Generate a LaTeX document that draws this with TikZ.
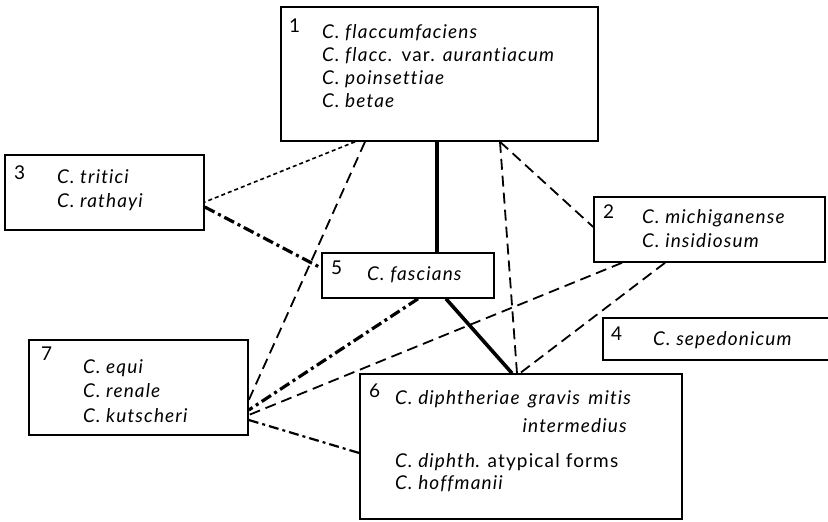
\documentclass[tikz,border=0pt]{standalone}
\usepackage{fontspec}
\setmainfont{Lato}[LetterSpace=6, Ligatures={NoCommon}]
\usetikzlibrary{positioning}

\begin{document}
\begin{tikzpicture}[x=1pt,y=-1pt,font=\fontsize{19}{23}\selectfont,
box/.style={draw, line width=1.6pt, inner sep=0pt},
num/.style={anchor=north west, inner sep=0pt, font=\fontsize{19}{20}\selectfont},
names/.style={anchor=base west, align=left, inner sep=0pt},
solidlink/.style={line width=3.6pt},
dashlink/.style={line width=1.8pt, dash pattern=on 11pt off 6pt},
dotlink/.style={line width=1.6pt, dash pattern=on 4pt off 3pt},
dashdotlink/.style={line width=3.2pt, dash pattern=on 11pt off 4pt on 3pt off 4pt},
thindashdot/.style={line width=2.2pt, dash pattern=on 10pt off 4pt on 3pt off 4pt}]
\useasboundingbox (0,0) rectangle (828,522);
\clip (0,0) rectangle (828,522);
\node[box, minimum width=317pt, minimum height=134pt] (b1) at (439.5,74) {};
\node[box, minimum width=199pt, minimum height=75pt] (b3) at (104.5,192.5) {};
\node[box, minimum width=231pt, minimum height=65pt] (b2) at (709.5,229.5) {};
\node[box, minimum width=172pt, minimum height=45pt] (b5) at (408,275.5) {};
\node[box, minimum width=247pt, minimum height=42pt] (b4) at (726.5,339) {};
\node[box, minimum width=219pt, minimum height=95pt] (b7) at (138.5,387.5) {};
\node[box, minimum width=322pt, minimum height=145pt] (b6) at (521,446.5) {};
\node[num] (n1) at (289,19) {1};
\node[num] (n3) at (14,166) {3};
\node[num] (n2) at (603,205) {2};
\node[num] (n5) at (331,261) {5};
\node[num] (n4) at (611,327) {4};
\node[num] (n7) at (41,347) {7};
\node[num] (n6) at (369,384) {6};
\node[names] (t1) at (322,107) {\textit{C. flaccumfaciens}\\\textit{C. flacc.} var. \textit{aurantiacum}\\\textit{C. poinsettiae}\\\textit{C. betae}};
\node[names, font=\fontsize{19}{24}\selectfont] (t3) at (57,207) {\textit{C. tritici}\\\textit{C. rathayi}};
\node[names, font=\fontsize{19}{24}\selectfont] (t2) at (642,247) {\textit{C. michiganense}\\\textit{C. insidiosum}};
\node[names] (t5) at (367,280) {\textit{C. fascians}};
\node[names] (t4) at (653,345) {\textit{C. sepedonicum}};
\node[names, font=\fontsize{19}{24.5}\selectfont] (t7) at (83,422) {\textit{C. equi}\\\textit{C. renale}\\\textit{C. kutscheri}};
\node[names] (t6) at (395,404) {\textit{C. diphtheriae\hspace{0.45em}gravis\hspace{0.45em}mitis}};
\node[anchor=base east, inner sep=0pt] (t6b) at (628,432) {\textit{intermedius}};
\node[names, font=\fontsize{19}{22}\selectfont] (t6c) at (395,489) {\textit{C. diphth}. atypical forms\\\textit{C. hoffmanii}};
\draw[dotlink] ([xshift=-84.5pt]b1.south) -- ([yshift=-9.5pt]b3.east);
\draw[dashlink] ([xshift=-74.5pt]b1.south) -- ([yshift=-12.5pt]b7.east);
\draw[solidlink] ([xshift=-2.5pt]b1.south) -- ([xshift=29pt]b5.north);
\draw[dashlink] ([xshift=60.5pt]b1.south) -- ([yshift=2.5pt]b2.west);
\draw[dashlink] ([xshift=60.5pt]b1.south) -- ([xshift=-4pt]b6.north);
\draw[dashdotlink] ([yshift=-14.5pt]b3.east) -- ([yshift=7.5pt]b5.west);
\draw[solidlink] ([xshift=38pt]b5.south) -- ([xshift=-9pt]b6.north);
\draw[dashdotlink] ([xshift=10pt]b5.south) -- ([yshift=-22.5pt]b7.east);
\draw[dashlink] ([xshift=-87.5pt]b2.south) -- ([yshift=-27.5pt]b7.east);
\draw[dashlink] ([xshift=-44.5pt]b2.south) -- ([xshift=-1pt]b6.north);
\draw[thindashdot] ([yshift=-32.5pt]b7.east) -- ([yshift=-6.5pt]b6.west);
\end{tikzpicture}
\end{document}
